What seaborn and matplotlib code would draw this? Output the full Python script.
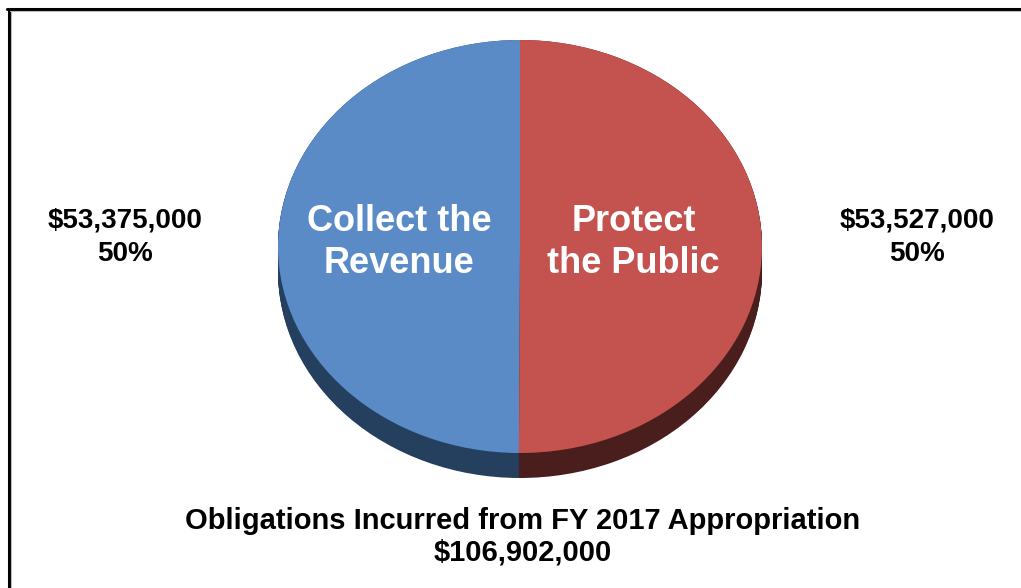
import numpy as np
import matplotlib
matplotlib.use("Agg")
import matplotlib.pyplot as plt
import seaborn as sns
from matplotlib.lines import Line2D


# ==============================
# 1. Data
# ==============================

categories = ["Collect the\nRevenue", "Protect\nthe Public"]
amounts = [53375000, 53527000]
total_label = "Obligations Incurred from FY 2017 Appropriation"

top_colors = ["#5b8bc7", "#c4524f"]
side_colors = ["#253f5f", "#4b1e1e"]

total = sum(amounts)
value_labels = [f"${v:,.0f}\n{v / total:.0%}" for v in amounts]


# ==============================
# 2. Style
# ==============================

sns.set_theme(style="white")
plt.rcParams["font.family"] = ["Liberation Sans", "DejaVu Sans"]
plt.rcParams["font.weight"] = "bold"
plt.rcParams["text.color"] = "black"

fig = plt.figure(figsize=(10.21, 5.88), dpi=100)
fig.patch.set_facecolor("white")

# pie box in pixels: x 278..762, top face y 40..453, side down to 478
W, H = 1021, 588
depth = 25 / 206.5
ax = fig.add_axes([278 / W, (H - 478) / H, 484 / W, 438 / H])


# ==============================
# 3. 3D-ish pie: stacked dark layers + top face
# ==============================

for k in np.linspace(depth, 0, 30):
    ax.pie(amounts, colors=side_colors, startangle=90, counterclock=True,
           center=(0, -k), radius=1, wedgeprops=dict(linewidth=0))

wedges, texts = ax.pie(
    amounts,
    labels=categories,
    labeldistance=0.5,
    colors=top_colors,
    startangle=90,
    counterclock=True,
    radius=1,
    wedgeprops=dict(linewidth=0),
    textprops=dict(color="white", fontsize=26, fontweight="bold"),
)
# small nudges so the labels sit where the original has them
nudges = [(0.0, 0.02), (-0.03, 0.02)]
for t, (dx, dy) in zip(texts, nudges):
    x, y = t.get_position()
    t.set_position((x + dx, y + dy))
    t.set_ha("center")
    t.set_va("center")
    t.set_multialignment("center")
    t.set_linespacing(1.25)

ax.set_aspect("auto")
ax.set_xlim(-1, 1)
ax.set_ylim(-1 - depth, 1)
ax.axis("off")


# ==============================
# 4. Outside labels and total
# ==============================

fig.text(125 / W, 1 - 237 / H, value_labels[0], ha="center", va="center",
         fontsize=20, fontweight="bold", linespacing=1.4)
fig.text(917 / W, 1 - 237 / H, value_labels[1], ha="center", va="center",
         fontsize=20, fontweight="bold", linespacing=1.4)
fig.text(523 / W, 1 - 537 / H, f"{total_label}\n${total:,.0f}",
         ha="center", va="center", fontsize=21, fontweight="bold",
         linespacing=1.15)


# ==============================
# 5. Frame (top and left edges only, with light shadow)
# ==============================

fig.add_artist(Line2D([7 / W, 1], [1 - 9 / H, 1 - 9 / H], color="black",
                      linewidth=2.2, transform=fig.transFigure))
fig.add_artist(Line2D([8.5 / W, 8.5 / W], [0, 1 - 9 / H], color="black",
                      linewidth=2.2, transform=fig.transFigure))
fig.add_artist(Line2D([10 / W, 1], [1 - 11 / H, 1 - 11 / H], color="#bbbbbb",
                      linewidth=0.8, transform=fig.transFigure))
fig.add_artist(Line2D([10.5 / W, 10.5 / W], [0, 1 - 11 / H], color="#bbbbbb",
                      linewidth=0.8, transform=fig.transFigure))

fig.savefig("out.png", dpi=100, facecolor="white")
plt.close(fig)
